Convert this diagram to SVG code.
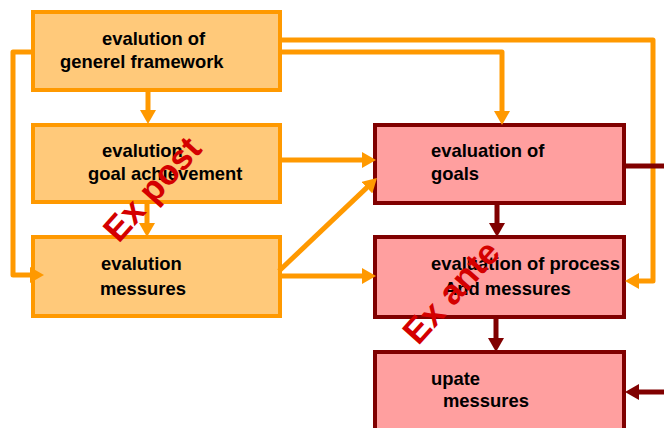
<svg xmlns="http://www.w3.org/2000/svg" width="664" height="428" viewBox="0 0 664 428">
<style>
.ob{fill:#FFC97A;stroke:#FF9900;stroke-width:4}
.rb{fill:#FF9F9F;stroke:#800000;stroke-width:4}
.t{font-family:"Liberation Sans",Arial,sans-serif;font-weight:bold;font-size:18.4px;fill:#000}
.oc{fill:none;stroke:#FF9900;stroke-width:5;stroke-linejoin:round}
.rc{fill:none;stroke:#800000;stroke-width:5;stroke-linejoin:round}
.ex{font-family:"Liberation Sans",Arial,sans-serif;font-weight:bold;font-size:35px;fill:#D40000}
</style>
<defs>
<marker id="ao" markerUnits="userSpaceOnUse" markerWidth="14" markerHeight="16" refX="4" refY="8" orient="auto"><path d="M0,0 L14,8 L0,16 z" fill="#FF9900"/></marker>
<marker id="ar" markerUnits="userSpaceOnUse" markerWidth="14" markerHeight="16" refX="4" refY="8" orient="auto"><path d="M0,0 L14,8 L0,16 z" fill="#800000"/></marker>
</defs>
<rect width="664" height="428" fill="#fff"/>
<g id="n1"><rect class="ob" x="33" y="12" width="247" height="78"/><text class="t" x="102" y="45">evalution of</text><text class="t" x="60" y="68">generel framework</text></g>
<g id="n2"><rect class="ob" x="33" y="125" width="247" height="77"/><text class="t" x="102" y="157">evalution</text><text class="t" x="88" y="180">goal achievement</text></g>
<g id="n3"><rect class="ob" x="33" y="237" width="247" height="79"/><text class="t" x="101" y="270">evalution</text><text class="t" x="100" y="295">messures</text></g>
<g id="n4"><rect class="rb" x="375" y="125" width="249" height="78"/><text class="t" x="431" y="157">evaluation of</text><text class="t" x="431" y="180">goals</text></g>
<g id="n5"><rect class="rb" x="375" y="237" width="249" height="80"/><text class="t" x="431" y="270">evaluation of process</text><text class="t" x="444" y="295">And messures</text></g>
<g id="n6"><rect class="rb" x="375" y="352" width="249" height="90"/><text class="t" x="431" y="385">upate</text><text class="t" x="443" y="407">messures</text></g>
<g id="connectors">
<path class="oc" d="M148,92 V114" marker-end="url(#ao)"/>
<path class="oc" d="M147,204 V227" marker-end="url(#ao)"/>
<path class="oc" d="M33,52 H13 V275 H34" marker-end="url(#ao)"/>
<path class="oc" d="M282,40 H653 V281 H635" marker-end="url(#ao)"/>
<path class="oc" d="M282,52 H502 V115" marker-end="url(#ao)"/>
<path class="oc" d="M282,160 H366" marker-end="url(#ao)"/>
<path class="oc" d="M279,271 L369.7,184.9" marker-end="url(#ao)"/>
<path class="oc" d="M282,276 H366" marker-end="url(#ao)"/>
<path class="rc" d="M497,205 V227" marker-end="url(#ar)"/>
<path class="rc" d="M496,319 V342" marker-end="url(#ar)"/>
<path class="rc" d="M626,166 H666"/>
<path class="rc" d="M666,392 H635" marker-end="url(#ar)"/>
</g>
<text class="ex" text-anchor="middle" transform="translate(161,197) rotate(-48)">Ex post</text>
<text class="ex" text-anchor="middle" transform="translate(460,300) rotate(-48)">Ex ante</text>
</svg>
